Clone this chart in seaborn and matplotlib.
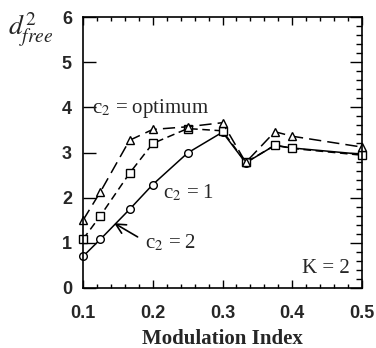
import matplotlib
matplotlib.use('Agg')
import matplotlib.pyplot as plt
from matplotlib.ticker import MultipleLocator
import seaborn as sns
import pandas as pd

# modulation index values and free distance for each c2 choice
mod_index = [0.1, 0.125, 1 / 6, 0.2, 0.25, 0.3, 1 / 3, 0.375, 0.4, 0.5]
d_opt = [1.50, 2.13, 3.27, 3.51, 3.57, 3.66, 2.78, 3.46, 3.36, 3.12]
d_c2_2 = [1.08, 1.60, 2.54, 3.20, 3.53, 3.48, 2.78, 3.16, 3.09, 2.94]
d_c2_1 = [0.70, 1.08, 1.74, 2.29, 2.99, 3.45, 2.77, 3.16, 3.10, 2.96]

x_ticks = [0.1, 0.2, 0.3, 0.4, 0.5]
y_ticks = [0, 1, 2, 3, 4, 5, 6]

sns.set_style('ticks')
plt.rcParams['mathtext.fontset'] = 'stix'
plt.rcParams['font.family'] = ['Liberation Serif', 'DejaVu Serif']

df = pd.DataFrame({'m': mod_index, 'opt': d_opt, 'c2': d_c2_2, 'c1': d_c2_1})

fig = plt.figure(figsize=(3.76, 3.48), dpi=100)
ax = fig.add_axes([83 / 376, 1 - 288 / 348, 279 / 376, 271 / 348])

common = dict(color='black', lw=1.1, markersize=5.5, mfc='white', mec='black',
              mew=1.0, clip_on=False, ax=ax)
sns.lineplot(data=df, x='m', y='c1', marker='o', linestyle='-', **common)
sns.lineplot(data=df, x='m', y='c2', marker='s', dashes=False, **common)
sns.lineplot(data=df, x='m', y='opt', marker='^', dashes=False, **common)
ax.lines[1].set_dashes((5, 3))
ax.lines[2].set_dashes((8, 4))

ax.set_xlim(0.1, 0.5)
ax.set_ylim(0, 6)
ax.set_xticks(x_ticks)
ax.set_yticks(y_ticks)
ax.set_xticklabels([f'{v:.1f}' for v in x_ticks])
ax.set_yticklabels([str(v) for v in y_ticks])
ax.xaxis.set_minor_locator(MultipleLocator(0.02))
ax.yaxis.set_minor_locator(MultipleLocator(0.2))
ax.set_xlabel('')
ax.set_ylabel('')

for s in ax.spines.values():
    s.set_linewidth(1.2)
    s.set_color('black')
ax.tick_params(axis='both', which='both', direction='in', color='black', width=1.0)
ax.tick_params(axis='x', which='major', length=6, top=True, pad=12)
ax.tick_params(axis='x', which='minor', length=3, top=True)
ax.tick_params(axis='y', which='major', length=9, right=True, pad=8)
ax.tick_params(axis='y', which='minor', length=4, left=False, right=True)
for lab in ax.get_xticklabels() + ax.get_yticklabels():
    lab.set_family('Liberation Sans')
    lab.set_fontweight('bold')
    lab.set_fontsize(13)

ax.text(0.1129, 3.88, r'c$_2$ = optimum', fontsize=15, va='baseline')
ax.text(0.2147, 1.99, r'c$_2$ = 1', fontsize=15, va='baseline')
ax.text(0.1889, 0.885, r'c$_2$ = 2', fontsize=15, va='baseline')
ax.text(0.4828, 0.33, 'K = 2', fontsize=15, va='baseline', ha='right')
ax.annotate('', xy=(0.1412, 1.467), xytext=(0.1817, 1.10),
            arrowprops=dict(arrowstyle='->,head_length=0.7,head_width=0.35',
                            color='black', lw=1.2))

fig.text(222 / 376, 4 / 348, 'Modulation Index', fontsize=15,
         fontweight='bold', ha='center', va='baseline')
fig.text(8 / 376, 1 - 10 / 348, r'$d^2_{free}$', fontsize=20, ha='left', va='top')

fig.savefig('out.png', dpi=100)
